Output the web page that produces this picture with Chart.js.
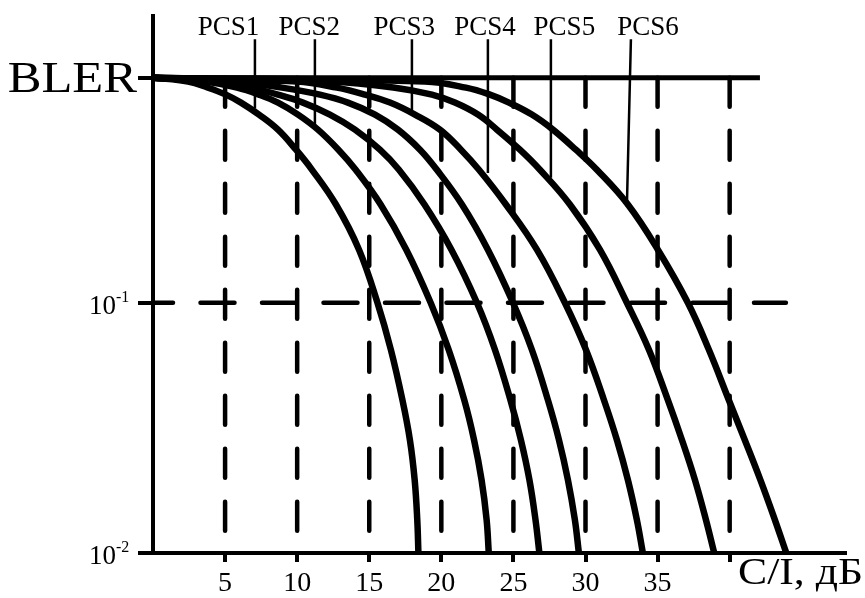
<!DOCTYPE html>
<html>
<head>
<meta charset="utf-8">
<script src="https://cdn.jsdelivr.net/npm/chart.js@4.4.1/dist/chart.umd.min.js"></script>
<style>
  body { margin: 0; background: #fff; }
  #wrap { width: 865px; height: 598px; position: relative; }
</style>
</head>
<body>
<div id="wrap"><canvas id="myChart"></canvas></div>
<script>
const blerLevels = [0.794, 0.766, 0.724, 0.679, 0.631, 0.565, 0.492, 0.409, 0.340, 0.247, 0.163, 0.1, 0.0649, 0.0409, 0.0283, 0.0196, 0.0136, 0.01];
const ci1 = [0, 2.43, 3.81, 5.06, 6.10, 7.35, 8.67, 9.92, 11.03, 12.69, 14.29, 15.57, 16.50, 17.30, 17.82, 18.15, 18.33, 18.41];
const ci2 = [0, 3.61, 5.83, 7.35, 8.67, 10.06, 11.44, 12.86, 14.06, 15.79, 17.57, 19.26, 20.51, 21.59, 22.27, 22.79, 23.14, 23.29];
const ci3 = [0, 4.30, 6.73, 8.67, 10.40, 12.27, 14.01, 15.74, 17.06, 18.83, 20.70, 22.47, 23.72, 24.79, 25.52, 26.11, 26.53, 26.80];
const ci4 = [0, 5.69, 8.95, 11.58, 13.52, 15.40, 16.99, 18.52, 19.69, 21.43, 23.23, 24.97, 26.28, 27.39, 28.16, 28.78, 29.26, 29.54];
const ci5 = [0, 9.99, 12.76, 14.70, 16.44, 18.17, 19.90, 21.36, 22.61, 24.48, 26.63, 28.57, 30.03, 31.28, 32.18, 32.94, 33.56, 33.98];
const ci6 = [0, 12.27, 16.78, 19.35, 20.94, 22.54, 23.86, 25.45, 26.84, 28.92, 31.00, 32.87, 34.40, 35.71, 36.69, 37.59, 38.35, 38.93];
const ci7 = [0, 18.86, 21.71, 23.37, 24.69, 26.28, 27.74, 29.33, 30.79, 32.94, 35.02, 37.10, 38.56, 39.94, 41.05, 42.13, 43.13, 43.93];

// axes
const xTicks = [5, 10, 15, 20, 25, 30, 35, 40];
const xTickLabels = ['5', '10', '15', '20', '25', '30', '35', ''];
const yTicks = [0.01, 0.1, 0.794];
const yTickBase = ['10', '10', 'BLER'];
const yTickSup = ['-2', '-1', ''];
const topLineEnd = 42.1;
const midLineEnd = 43.9;

// PCS labels and their leader lines
const pcsLabels = ['PCS1', 'PCS2', 'PCS3', 'PCS4', 'PCS5', 'PCS6'];
const pcsTextX = [3.1, 8.7, 15.3, 20.9, 26.4, 32.2];
const pcsTextY = 1.18;
const pcsLeadTopX = [7.07, 11.23, 17.96, 23.23, 27.6, 33.15];
const pcsLeadBotX = [7.07, 11.23, 17.96, 23.23, 27.6, 32.87];
const pcsLeadTop = 1.13;
const pcsLeadEnd = [0.597, 0.51, 0.59, 0.33, 0.316, 0.242];

const serif = "'Liberation Serif', 'Times New Roman', serif";

function pts(xs, ys) {
  return xs.map((v, i) => ({ x: v, y: ys[i] }));
}

const curves = [ci1, ci2, ci3, ci4, ci5, ci6, ci7];

const vDash = [];
xTicks.forEach(v => {
  vDash.push({ x: v, y: yTicks[2] }, { x: v, y: 0.01 }, { x: v, y: null });
});
const leaders = [];
pcsLabels.forEach((l, i) => {
  leaders.push({ x: pcsLeadTopX[i], y: pcsLeadTop }, { x: pcsLeadBotX[i], y: pcsLeadEnd[i] }, { x: pcsLeadBotX[i], y: null });
});

const datasets = curves.map((c, i) => ({
  label: 'curve' + (i + 1),
  data: pts(c, blerLevels),
  borderColor: '#000',
  borderWidth: 6.5,
  tension: 0.4,
  pointRadius: 0
}));
datasets.push({
  label: 'top',
  data: [{ x: 0, y: yTicks[2] }, { x: topLineEnd, y: yTicks[2] }],
  borderColor: '#000', borderWidth: 5, pointRadius: 0
});
datasets.push({
  label: 'mid',
  data: [{ x: 0, y: yTicks[1] }, { x: midLineEnd, y: yTicks[1] }],
  borderColor: '#000', borderWidth: 4.5, pointRadius: 0,
  borderDash: [34, 27.5], borderDashOffset: 14, borderCapStyle: 'round'
});
datasets.push({
  label: 'grid',
  data: vDash,
  borderColor: '#000', borderWidth: 4.5, pointRadius: 0, spanGaps: false,
  borderDash: [29, 24], borderCapStyle: 'round'
});
datasets.push({
  label: 'leaders',
  data: leaders,
  borderColor: '#000', borderWidth: 2.5, pointRadius: 0, spanGaps: false
});

const textPlugin = {
  id: 'texts',
  afterDraw(chart) {
    const { ctx, scales: { x, y } } = chart;
    ctx.save();
    ctx.fillStyle = '#000';
    ctx.textBaseline = 'alphabetic';
    // y labels
    yTicks.forEach((v, i) => {
      const py = y.getPixelForValue(v);
      if (yTickSup[i]) {
        ctx.font = '27px ' + serif;
        ctx.textAlign = 'right';
        ctx.fillText(yTickBase[i], x.left - 37, py + 11);
        ctx.font = '16px ' + serif;
        ctx.textAlign = 'left';
        ctx.fillText(yTickSup[i], x.left - 37, py - 1);
      } else {
        ctx.save();
        ctx.font = '44px ' + serif;
        ctx.textAlign = 'right';
        ctx.translate(x.left - 16, py + 14);
        ctx.scale(1.15, 1);
        ctx.fillText(yTickBase[i], 0, 0);
        ctx.restore();
      }
    });
    // PCS labels
    ctx.font = '27px ' + serif;
    ctx.textAlign = 'left';
    pcsLabels.forEach((l, i) => {
      ctx.fillText(l, x.getPixelForValue(pcsTextX[i]), y.getPixelForValue(pcsTextY));
    });
    // axis title
    ctx.save();
    ctx.font = '38px ' + serif;
    ctx.textAlign = 'right';
    ctx.translate(chart.width - 2, x.bottom - 14);
    ctx.scale(1.15, 1);
    ctx.fillText('C/I, дБ', 0, 0);
    ctx.restore();
    ctx.restore();
  }
};

Chart.defaults.font.family = serif;
Chart.defaults.color = '#000';

const ctx1 = document.getElementById('myChart');

new Chart(ctx1, {
  type: 'line',
  data: { datasets: datasets },
  options: {
    maintainAspectRatio: false,
    responsive: true,
    animation: false,
    layout: { padding: { top: 16, right: 20, left: 0, bottom: 0 } },
    plugins: { legend: { display: false }, tooltip: { enabled: false } },
    scales: {
      x: {
        type: 'linear',
        min: 0,
        max: 48,
        afterFit: s => { s.height = 45; },
        afterBuildTicks: s => { s.ticks = xTicks.map(v => ({ value: v })); },
        border: { display: true, color: '#000', width: 4 },
        grid: { drawOnChartArea: false, drawTicks: true, tickLength: 9, lineWidth: 4, color: '#000' },
        ticks: {
          padding: 5,
          font: { size: 28 },
          color: '#000',
          maxRotation: 0,
          callback: (v) => xTickLabels[xTicks.indexOf(v)]
        }
      },
      y: {
        type: 'logarithmic',
        min: 0.01,
        max: 1.4,
        afterFit: s => { s.width = 153; },
        afterBuildTicks: s => { s.ticks = yTicks.map(v => ({ value: v })); },
        border: { display: true, color: '#000', width: 4 },
        grid: { drawOnChartArea: false, drawTicks: true, tickLength: 15, lineWidth: 4, color: '#000' },
        ticks: { display: false }
      }
    }
  },
  plugins: [textPlugin]
});
</script>
</body>
</html>
